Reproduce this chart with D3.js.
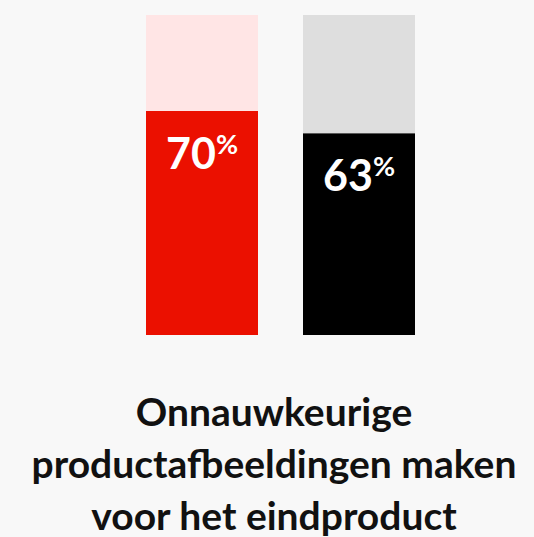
<!DOCTYPE html>
<html>
<head>
<meta charset="utf-8">
<script src="https://cdn.jsdelivr.net/npm/d3@7"></script>
<style>
  html, body { margin: 0; padding: 0; background: #f8f8f8; overflow: hidden; }
  svg { display: block; }
</style>
</head>
<body>
<script>
const categories = ["A", "B"];
const values = [70, 63];
const barColors = ["#eb1000", "#000000"];
const trackColors = ["#ffe5e5", "#dedede"];
const titleLines = ["Onnauwkeurige", "productafbeeldingen maken", "voor het eindproduct"];

const W = 534, H = 537;
const svg = d3.select("body").append("svg").attr("width", W).attr("height", H);
svg.append("rect").attr("width", W).attr("height", H).attr("fill", "#f8f8f8");

const x = d3.scaleBand().domain(categories).range([146, 415]).paddingInner(45 / 157).paddingOuter(0);
const y = d3.scaleLinear().domain([0, 100]).range([335, 15]);

const g = svg.append("g");
g.selectAll("rect.track").data(categories).join("rect")
  .attr("class", "track")
  .attr("x", d => x(d)).attr("width", x.bandwidth())
  .attr("y", y(100)).attr("height", y(0) - y(100))
  .attr("fill", (d, i) => trackColors[i]);

g.selectAll("rect.bar").data(categories).join("rect")
  .attr("class", "bar")
  .attr("x", d => x(d)).attr("width", x.bandwidth())
  .attr("y", (d, i) => y(values[i])).attr("height", (d, i) => y(0) - y(values[i]))
  .attr("fill", (d, i) => barColors[i]);

const labels = g.selectAll("text.lbl").data(categories).join("text")
  .attr("class", "lbl")
  .attr("x", d => x(d) + x.bandwidth() / 2)
  .attr("y", (d, i) => y(values[i]) + 58)
  .attr("text-anchor", "middle")
  .attr("fill", "#ffffff")
  .attr("font-family", "Lato, 'Open Sans', sans-serif")
  .attr("font-weight", 700);
labels.append("tspan").attr("font-size", 43).text((d, i) => values[i]);
labels.append("tspan").attr("font-size", 27).attr("dy", -15).text("%");

const title = svg.append("text")
  .attr("text-anchor", "middle")
  .attr("fill", "#111111")
  .attr("font-family", "Lato, 'Open Sans', sans-serif")
  .attr("font-weight", 700)
  .attr("font-size", 39);
title.selectAll("tspan").data(titleLines).join("tspan")
  .attr("x", 274)
  .attr("y", (d, i) => 426 + i * 52)
  .text(d => d);
</script>
</body>
</html>
